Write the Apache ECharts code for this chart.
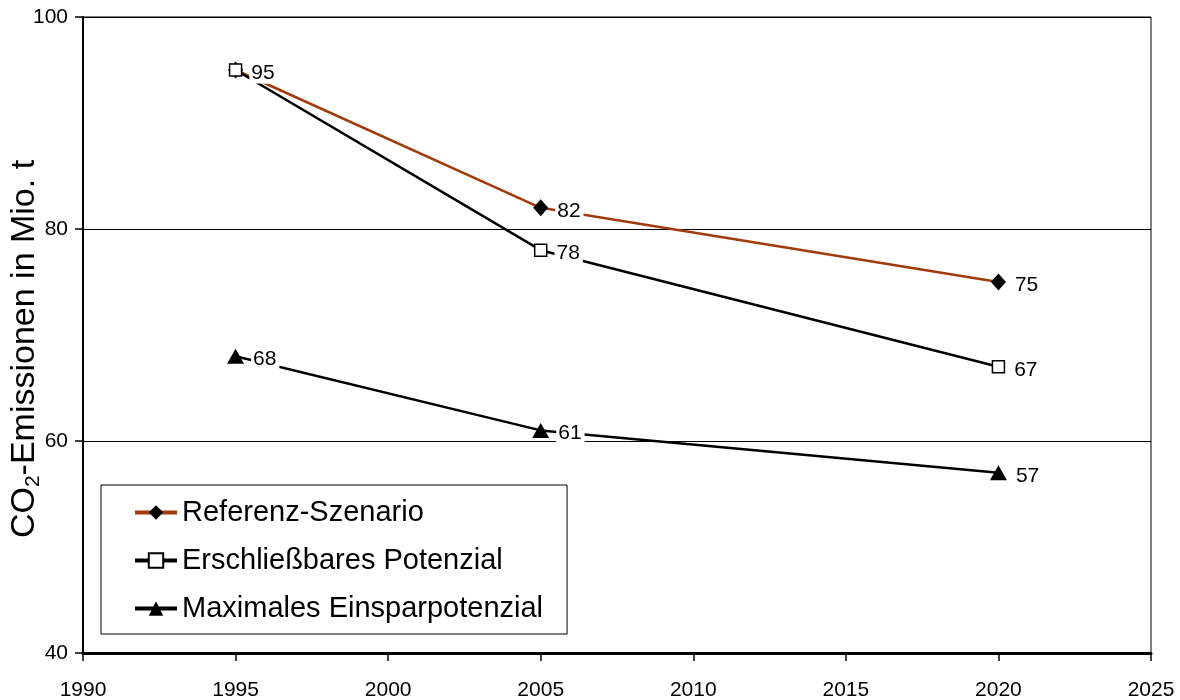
<!DOCTYPE html>
<html>
<head>
<meta charset="utf-8">
<script src="https://cdn.jsdelivr.net/npm/echarts@6/dist/echarts.min.js"></script>
<style>
  html, body { margin: 0; padding: 0; background: #fff; }
  #chart { width: 1180px; height: 700px; }
</style>
</head>
<body>
<div id="chart"></div>
<script>
// Stützjahre und CO2-Emissionen (Mio. t) je Szenario
const years = [1995, 2005, 2020];
const referenz = [95, 82, 75];
const erschliessbar = [95, 78, 67];
const maximal = [68, 61, 57];

const seriesNames = ['Referenz-Szenario', 'Erschließbares Potenzial', 'Maximales Einsparpotenzial'];
const xTicks = { min: 1990, max: 2025, step: 5 };
const yTicks = { min: 40, max: 100, step: 20 };

const FONT = '"Liberation Sans", Arial, Helvetica, sans-serif';

function pairs(values) {
  return years.map((y, i) => [y, values[i]]);
}

const valueLabel = {
  show: true,
  position: 'right',
  distance: 7,
  offset: [0, 3],
  color: '#000',
  fontFamily: FONT,
  fontSize: 21,
  backgroundColor: '#fff',
  padding: [0, 3, 0, 2],
  formatter: p => String(p.value[1])
};

const chart = echarts.init(document.getElementById('chart'), null, { renderer: 'canvas' });

chart.setOption({
  animation: false,
  backgroundColor: '#fff',
  textStyle: { fontFamily: FONT, color: '#000' },
  grid: {
    left: 83, right: 29, top: 17, bottom: 47,
    outerBoundsMode: 'none',
    containLabel: false,
    show: true, borderColor: '#000', borderWidth: 1
  },
  legend: {
    orient: 'vertical',
    left: 101,
    top: 485,
    padding: [13, 24, 11, 32],
    itemGap: 19,
    itemWidth: 42,
    itemHeight: 18,
    borderColor: '#000',
    borderWidth: 1,
    backgroundColor: '#fff',
    lineStyle: { width: 4 },
    textStyle: { fontFamily: FONT, fontSize: 29, color: '#000' },
    data: seriesNames
  },
  xAxis: {
    type: 'value',
    min: xTicks.min, max: xTicks.max, interval: xTicks.step,
    axisLine: { show: true, onZero: false, lineStyle: { color: '#000', width: 3 } },
    axisTick: { show: true, inside: false, length: 8, lineStyle: { color: '#000', width: 1.5 } },
    axisLabel: { margin: 27, fontSize: 21, color: '#000', fontFamily: FONT, formatter: v => String(v) },
    splitLine: { show: false }
  },
  yAxis: {
    type: 'value',
    min: yTicks.min, max: yTicks.max, interval: yTicks.step,
    name: '{a|CO}{s|2}{a|-Emissionen in Mio. t}',
    nameLocation: 'middle',
    nameRotate: 90,
    nameGap: 39,
    nameMoveOverlap: false,
    nameTextStyle: {
      padding: [0, 28, 0, 0],
      rich: {
        a: { fontFamily: FONT, fontSize: 34, color: '#000', lineHeight: 38 },
        s: { fontFamily: FONT, fontSize: 21, color: '#000', lineHeight: 38, padding: [16, 0, 0, 0] }
      }
    },
    axisLine: { show: true, onZero: false, lineStyle: { color: '#000', width: 2 } },
    axisTick: { show: true, inside: false, length: 8, lineStyle: { color: '#000', width: 1.5 } },
    axisLabel: { margin: 15, fontSize: 21, color: '#000', fontFamily: FONT, formatter: v => String(v) },
    splitLine: { show: true, lineStyle: { color: '#000', width: 1 } }
  },
  series: [
    {
      name: seriesNames[0],
      type: 'line',
      data: pairs(referenz),
      symbol: 'diamond',
      symbolSize: [15, 17],
      itemStyle: { color: '#000', borderWidth: 0 },
      lineStyle: { color: '#A23B0C', width: 2.5 },
      label: valueLabel,
      z: 2
    },
    {
      name: seriesNames[1],
      type: 'line',
      data: pairs(erschliessbar),
      symbol: 'rect',
      symbolSize: 12,
      itemStyle: { color: '#fff', borderColor: '#000', borderWidth: 1.5 },
      lineStyle: { color: '#000', width: 2.5 },
      label: valueLabel,
      z: 3
    },
    {
      name: seriesNames[2],
      type: 'line',
      data: pairs(maximal),
      symbol: 'triangle',
      symbolSize: [17, 15],
      itemStyle: { color: '#000', borderWidth: 0 },
      lineStyle: { color: '#000', width: 2.5 },
      label: valueLabel,
      z: 4
    }
  ]
});
</script>
</body>
</html>
